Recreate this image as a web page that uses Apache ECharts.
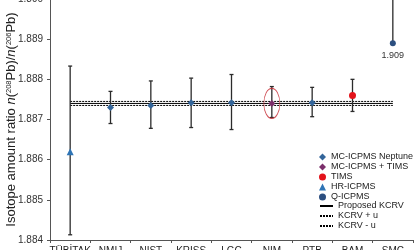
<!DOCTYPE html>
<html>
<head>
<meta charset="utf-8">
<script src="https://cdn.jsdelivr.net/npm/echarts@6/dist/echarts.min.js"></script>
<style>html,body{margin:0;padding:0;background:#fff}#c{width:420px;height:250px}</style>
</head>
<body>
<div id="c"></div>
<script>
var categories = ['TÜBİTAK', 'NMIJ', 'NIST', 'KRISS', 'LGC', 'NIM', 'PTB', 'BAM', 'SMC'];
var values = [1.8862, 1.8873, 1.88735, 1.88742, 1.88742, 1.8874, 1.88742, 1.8876, 1.8889];
var lows   = [1.88413, 1.8869, 1.88678, 1.8868, 1.88675, 1.88705, 1.88707, 1.8872, 1.8889];
var highs  = [1.88833, 1.8877, 1.88796, 1.88803, 1.88812, 1.88782, 1.8878, 1.8880, 1.8900];
var methods = ['HR-ICPMS', 'MC-ICPMS Neptune', 'MC-ICPMS Neptune', 'MC-ICPMS Neptune', 'MC-ICPMS Neptune', 'MC-ICPMS + TIMS', 'MC-ICPMS Neptune', 'TIMS', 'Q-ICPMS'];
var pointLabels = ['', '', '', '', '', '', '', '', '1.909'];
var kcrv = 1.88740;
var kcrvU = 0.00005;
var highlighted = ['NIM'];
var yTicks = [1.884, 1.885, 1.886, 1.887, 1.888, 1.889, 1.890];

var FONT = '"Liberation Sans Narrow", "Liberation Sans", Arial, sans-serif';
var methodStyles = {
  'MC-ICPMS Neptune': {symbol: 'diamond', size: 7, color: '#33659A'},
  'MC-ICPMS + TIMS': {symbol: 'diamond', size: 7, color: '#7B2F6B'},
  'TIMS': {symbol: 'circle', size: 7, color: '#E3131B'},
  'HR-ICPMS': {symbol: 'triangle', size: 7, color: '#2E74B5'},
  'Q-ICPMS': {symbol: 'circle', size: 6, color: '#2C4F80'}
};
var methodOrder = ['MC-ICPMS Neptune', 'MC-ICPMS + TIMS', 'TIMS', 'HR-ICPMS', 'Q-ICPMS'];

var series = [];
series.push({name: 'Proposed KCRV', type: 'line', symbol: 'none', data: categories.map(function(){return kcrv;}),
  lineStyle: {color: '#000', width: 1, type: 'solid'}, itemStyle: {color: '#000'}, z: 2, silent: true});
series.push({name: 'KCRV + u', type: 'line', symbol: 'none', data: categories.map(function(){return kcrv + kcrvU;}),
  lineStyle: {color: '#000', width: 1, type: [2, 1]}, itemStyle: {color: '#000'}, z: 2, silent: true});
series.push({name: 'KCRV - u', type: 'line', symbol: 'none', data: categories.map(function(){return kcrv - kcrvU;}),
  lineStyle: {color: '#000', width: 1, type: [2, 1]}, itemStyle: {color: '#000'}, z: 2, silent: true});

series.push({
  name: 'err', type: 'custom', z: 3,
  data: categories.map(function(c, i){ return [i, lows[i], highs[i]]; }),
  renderItem: function(params, api){
    var x = api.value(0);
    var lo = api.coord([x, api.value(1)]);
    var hi = api.coord([x, api.value(2)]);
    var st = {stroke: '#2b2b2b', lineWidth: 1.3};
    return {type: 'group', children: [
      {type: 'line', shape: {x1: lo[0], y1: lo[1], x2: hi[0], y2: hi[1]}, style: st},
      {type: 'line', shape: {x1: lo[0]-2, y1: lo[1], x2: lo[0]+2, y2: lo[1]}, style: st},
      {type: 'line', shape: {x1: hi[0]-2, y1: hi[1], x2: hi[0]+2, y2: hi[1]}, style: st}
    ]};
  }
});

methodOrder.forEach(function(m){
  var s = methodStyles[m];
  var data = [];
  categories.forEach(function(c, i){
    if (methods[i] === m) {
      var d = {value: [i, values[i]]};
      if (pointLabels[i]) {
        d.label = {show: true, position: 'bottom', distance: 5, formatter: pointLabels[i], fontSize: 9, color: '#333', fontFamily: FONT};
      }
      data.push(d);
    }
  });
  series.push({name: m, type: 'scatter', symbol: s.symbol, symbolSize: s.size, itemStyle: {color: s.color, opacity: 1},
    data: data, z: 5});
});

series.push({name: 'highlight', type: 'scatter', symbol: 'circle', symbolSize: [16, 30], z: 4, silent: true,
  itemStyle: {color: 'rgba(0,0,0,0)', borderColor: '#C4262E', borderWidth: 1},
  data: highlighted.map(function(n){ var i = categories.indexOf(n); return [i, values[i]]; })});

var chart = echarts.init(document.getElementById('c'), null, {renderer: 'canvas'});
chart.setOption({
  animation: false,
  grid: {left: 50, right: 7, top: -1, bottom: 10, containLabel: false, outerBoundsMode: 'none'},
  xAxis: {
    type: 'category', data: categories, boundaryGap: true,
    axisLine: {lineStyle: {color: '#555', width: 1}},
    axisTick: {show: true, inside: false, length: 3, alignWithLabel: false, lineStyle: {color: '#555'}},
    axisLabel: {fontSize: 10, color: '#222', fontFamily: FONT, margin: 6, interval: 0},
    splitLine: {show: false}
  },
  yAxis: {
    type: 'value', min: yTicks[0], max: yTicks[yTicks.length-1], interval: 0.001,
    axisLine: {show: true, lineStyle: {color: '#555', width: 1}},
    axisTick: {show: true, length: 3, lineStyle: {color: '#555'}},
    axisLabel: {fontSize: 10, color: '#333', fontFamily: FONT, margin: 7, formatter: function(v){ return v.toFixed(3); }},
    splitLine: {show: false},
    name: 'Isotope amount ratio {i|n}({s|208}Pb)/{i|n}({s|206}Pb)',
    nameLocation: 'middle', nameRotate: 90, nameGap: 32, nameMoveOverlap: false,
    nameTextStyle: {fontSize: 13, color: '#222', fontFamily: FONT,
      rich: {i: {fontStyle: 'italic', fontSize: 13, color: '#222', fontFamily: FONT},
             s: {fontSize: 7.5, color: '#222', fontFamily: FONT, padding: [0, 0, 5, 0]}}}
  },
  legend: [
    {orient: 'vertical', left: 314, top: 147, itemWidth: 7, itemHeight: 7, itemGap: 0,
     data: methodOrder, textStyle: {fontSize: 9, lineHeight: 10, color: '#222', fontFamily: FONT}},
    {orient: 'vertical', left: 314, top: 196, itemWidth: 13, itemHeight: 7, itemGap: 0,
     itemStyle: {opacity: 0},
     data: ['Proposed KCRV', 'KCRV + u', 'KCRV - u'], textStyle: {fontSize: 9, lineHeight: 10, color: '#222', fontFamily: FONT}}
  ],
  series: series
});
</script>
</body>
</html>
